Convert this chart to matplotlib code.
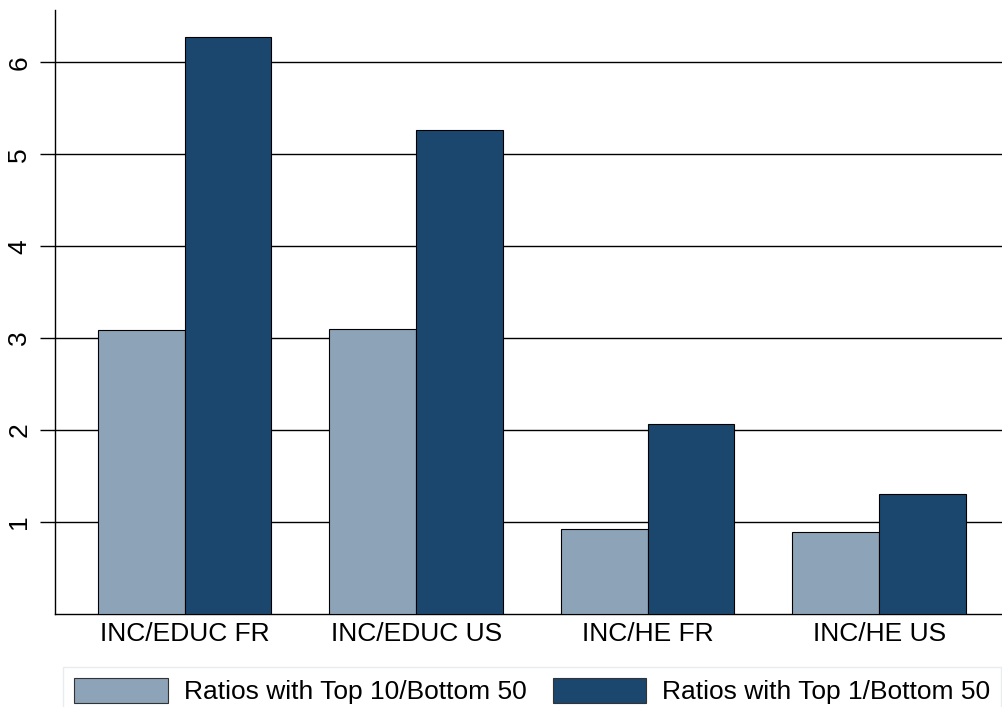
import numpy as np
import matplotlib
matplotlib.use("Agg")
from matplotlib import pyplot as plt
from matplotlib.patches import Patch

categories = ["INC/EDUC FR", "INC/EDUC US", "INC/HE FR", "INC/HE US"]
top10_bottom50 = [3.09, 3.10, 0.92, 0.89]
top1_bottom50 = [6.27, 5.26, 2.07, 1.31]
series_names = ["Ratios with Top 10/Bottom 50", "Ratios with Top 1/Bottom 50"]
yticks = [1, 2, 3, 4, 5, 6]

light = "#8DA3B8"
dark = "#1B476F"

plt.rcParams['font.family'] = ['Liberation Sans', 'DejaVu Sans']

fig = plt.figure(figsize=(10.03, 7.07), dpi=100)
ax = fig.add_axes([0.0548, 0.1315, 0.9452, 0.8545])

x = np.arange(len(categories))
w = 0.375
ax.bar(x - w / 2, top10_bottom50, w, color=light, edgecolor="black", linewidth=0.8, zorder=3)
ax.bar(x + w / 2, top1_bottom50, w, color=dark, edgecolor="black", linewidth=0.8, zorder=3)

ax.set_xlim(-0.56, 3.535)
ax.set_ylim(0, 6.57)
ax.set_yticks(yticks)
ax.set_yticklabels([str(t) for t in yticks], rotation=90, va="center", fontsize=19)
ax.set_xticks(x)
ax.set_xticklabels(categories, fontsize=19)
ax.tick_params(axis="x", length=0, pad=6)
ax.tick_params(axis="y", length=11, width=1, pad=6)
ax.grid(axis="y", color="black", linewidth=1, zorder=0)
for s in ["top", "right"]:
    ax.spines[s].set_visible(False)
ax.spines["left"].set_linewidth(1)
ax.spines["bottom"].set_linewidth(1)

handles = [Patch(facecolor=light, edgecolor="#333333", linewidth=0.8),
           Patch(facecolor=dark, edgecolor="#333333", linewidth=0.8)]
leg = fig.legend(handles, series_names, loc="upper left",
                 bbox_to_anchor=(63 / 1003, 1 - 667 / 707),
                 ncol=2, fontsize=19, frameon=True, fancybox=False,
                 handlelength=3.55, handleheight=1.06, columnspacing=1.0,
                 handletextpad=0.6, borderpad=0.42, borderaxespad=0)
leg.get_frame().set_edgecolor("#e4e8ec")
leg.get_frame().set_linewidth(1)

fig.savefig("out.png", dpi=100)
